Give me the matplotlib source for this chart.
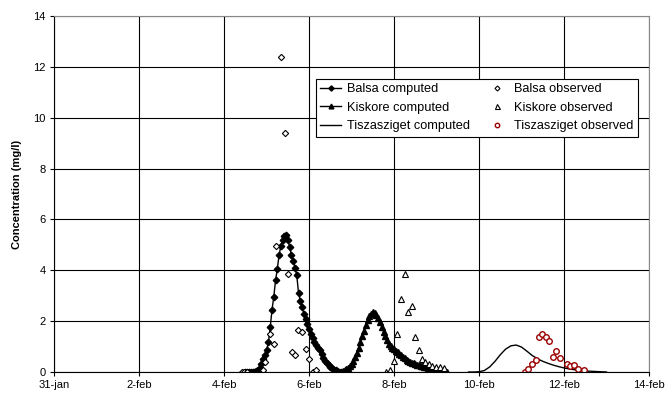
import numpy as np
import matplotlib
matplotlib.use('Agg')
import matplotlib.pyplot as plt

plt.rcParams['font.family'] = ['Liberation Sans', 'DejaVu Sans']

# days after 31-jan, hourly computed series
balsa_t0 = 4.5
balsa_comp = [0.0, 0.0, 0.0, 0.0, 0.01, 0.02, 0.04, 0.08, 0.17, 0.32,
              0.5, 0.68, 0.88, 1.18, 1.75, 2.45, 2.95, 3.6, 4.05, 4.6,
              4.95, 5.2, 5.33, 5.38, 5.2, 4.9, 4.6, 4.35, 4.1, 3.8,
              3.1, 2.8, 2.55, 2.3, 2.1, 1.9, 1.7, 1.5, 1.32, 1.18,
              1.05, 0.95, 0.85, 0.7, 0.56, 0.45, 0.35, 0.27, 0.2, 0.14,
              0.09, 0.06, 0.03, 0.02, 0.01]

kisk_t0 = 6.625
kisk_comp = [0.0, 0.0, 0.01, 0.02, 0.04, 0.07, 0.11, 0.16, 0.22, 0.3,
             0.42, 0.58, 0.76, 0.96, 1.17, 1.4, 1.62, 1.85, 2.05, 2.2,
             2.3, 2.36, 2.33, 2.25, 2.12, 1.97, 1.78, 1.58, 1.4, 1.24,
             1.12, 1.03, 0.96, 0.9, 0.84, 0.78, 0.72, 0.66, 0.6, 0.54,
             0.48, 0.44, 0.4, 0.37, 0.34, 0.31, 0.28, 0.26, 0.24, 0.22,
             0.2, 0.18, 0.16, 0.14, 0.13, 0.11, 0.1, 0.09, 0.07, 0.06,
             0.05, 0.04, 0.03, 0.02]

tisza_t = [9.75, 9.875, 10.0, 10.125, 10.25, 10.375, 10.5, 10.625, 10.75,
           10.875, 11.0, 11.125, 11.25, 11.375, 11.5, 11.625, 11.75, 11.875,
           12.0, 12.125, 12.25, 12.375, 12.5, 12.625, 12.75, 12.875, 13.0]
tisza_comp = [0, 0, 0.01, 0.06, 0.2, 0.42, 0.68, 0.9, 1.03, 1.06, 0.98, 0.82,
              0.65, 0.52, 0.42, 0.34, 0.27, 0.21, 0.16, 0.12, 0.09, 0.06,
              0.04, 0.03, 0.02, 0.01, 0.0]

balsa_obs_t = [4.41, 4.47, 4.53, 4.92, 4.97, 5.08, 5.17, 5.23, 5.33, 5.42,
               5.49, 5.59, 5.66, 5.74, 5.82, 5.92, 6.0, 6.08, 6.16]
balsa_obs = [0.02, 0.02, 0.02, 0.08, 0.4, 1.48, 1.09, 4.94, 12.4, 9.4,
             3.87, 0.8, 0.67, 1.65, 1.56, 0.89, 0.51, 0.01, 0.08]

kisk_obs_t = [7.82, 7.9, 7.99, 8.07, 8.16, 8.25, 8.33, 8.41, 8.5, 8.58,
              8.66, 8.73, 8.82, 8.89, 8.99, 9.09, 9.18]
kisk_obs = [0.01, 0.08, 0.44, 1.49, 2.86, 3.84, 2.37, 2.59, 1.36, 0.86,
            0.5, 0.38, 0.3, 0.24, 0.18, 0.21, 0.14]

tisza_obs_t = [11.08, 11.15, 11.24, 11.33, 11.4, 11.49, 11.57, 11.65, 11.74,
               11.81, 11.9, 12.06, 12.15, 12.24, 12.32, 12.47]
tisza_obs = [0.01, 0.1, 0.31, 0.47, 1.39, 1.48, 1.39, 1.22, 0.58, 0.82,
             0.56, 0.31, 0.24, 0.26, 0.1, 0.08]

xticks = [0, 2, 4, 6, 8, 10, 12, 14]
xlabels = ['31-jan', '2-feb', '4-feb', '6-feb', '8-feb', '10-feb', '12-feb', '14-feb']

balsa_t = balsa_t0 + np.arange(len(balsa_comp)) / 24.0
kisk_t = kisk_t0 + np.arange(len(kisk_comp)) / 24.0

fig = plt.figure(figsize=(6.67, 3.98), dpi=100)
ax = fig.add_axes([0.0814, 0.0653, 0.8916, 0.8947])

l1, = ax.plot(balsa_t, balsa_comp, color='black', lw=1, marker='D', ms=3.3,
              label='Balsa computed')
l2, = ax.plot(kisk_t, kisk_comp, color='black', lw=1, marker='^', ms=4.3,
              label='Kiskore computed')
l3, = ax.plot(tisza_t, tisza_comp, color='black', lw=1,
              label='Tiszasziget computed')
o1, = ax.plot(balsa_obs_t, balsa_obs, ls='none', marker='D', ms=3.2,
              mfc='white', mec='black', mew=0.8, label='Balsa observed')
o2, = ax.plot(kisk_obs_t, kisk_obs, ls='none', marker='^', ms=4.5,
              mfc='white', mec='black', mew=0.8, label='Kiskore observed')
o3, = ax.plot(tisza_obs_t, tisza_obs, ls='none', marker='o', ms=4,
              mfc='white', mec='#9b0000', mew=1.0, label='Tiszasziget observed')

ax.set_xlim(0, 14)
ax.set_ylim(0, 14)
ax.set_xticks(xticks)
ax.set_xticklabels(xlabels)
ax.set_yticks(range(0, 15, 2))
ax.tick_params(labelsize=8, length=3, width=0.8, color='black', pad=3)
ax.grid(True, color='black', lw=0.8)
ax.set_axisbelow(True)
for s in ['top', 'right']:
    ax.spines[s].set_color('#888888')
ax.set_ylabel('Concentration (mg/l)', fontsize=8, fontweight='bold', labelpad=8)

leg = ax.legend(handles=[l1, l2, l3, o1, o2, o3], ncol=2, loc='upper left',
                bbox_to_anchor=(0.44, 0.823), borderaxespad=0, fontsize=9.2,
                fancybox=False, framealpha=1, edgecolor='black',
                handlelength=1.6, handletextpad=0.5, columnspacing=1.3,
                labelspacing=0.5, borderpad=0.35, markerscale=0.8)
leg.get_frame().set_linewidth(0.8)

fig.savefig('out.png', dpi=100)
